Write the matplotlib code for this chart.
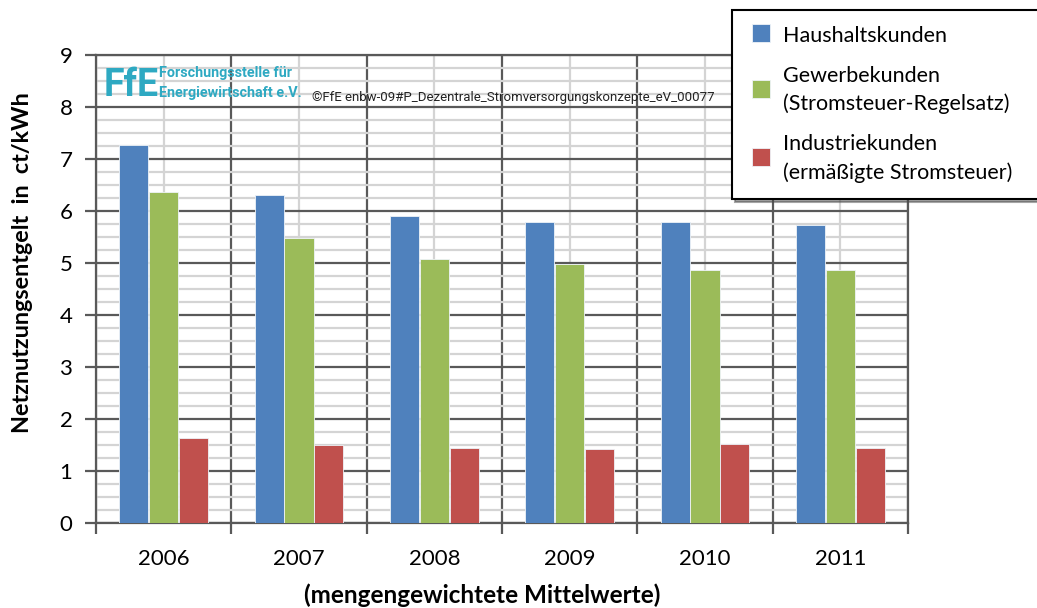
import matplotlib
matplotlib.use("Agg")
import matplotlib.pyplot as plt
import numpy as np
from matplotlib.patches import Rectangle
from matplotlib.legend_handler import HandlerPatch, update_from_first_child
from matplotlib.ticker import MultipleLocator, FixedLocator, NullFormatter

# Network charges (ct/kWh), quantity-weighted averages
years = ["2006", "2007", "2008", "2009", "2010", "2011"]
haushalt = [7.27, 6.31, 5.91, 5.79, 5.79, 5.74]
gewerbe = [6.37, 5.49, 5.07, 4.99, 4.87, 4.87]
industrie = [1.64, 1.50, 1.44, 1.42, 1.52, 1.44]
series_labels = ["Haushaltskunden",
                 "Gewerbekunden\n(Stromsteuer-Regelsatz)",
                 "Industriekunden\n(ermäßigte Stromsteuer)"]
colors = ["#4F81BD", "#9BBB59", "#C0504D"]

plt.rcParams["font.family"] = ["Lato", "DejaVu Sans"]
narrow = ["Liberation Sans Narrow", "DejaVu Sans Condensed", "Roboto", "DejaVu Sans"]

W, H = 1037, 608
fig = plt.figure(figsize=(W / 100, H / 100), dpi=100)
ax = fig.add_axes([96 / W, 1 - 523 / H, (908 - 96) / W, (523 - 55) / H])

x = np.arange(len(years))
bw = 0.215
off = 0.22
for i, (vals, c, lab) in enumerate(zip([haushalt, gewerbe, industrie], colors, series_labels)):
    ax.bar(x + (i - 1) * off, vals, width=bw, color=c, edgecolor="#EEF3F8",
           linewidth=0.6, label=lab, zorder=3)

ax.set_xlim(-0.5, len(years) - 0.5)
ax.set_ylim(0, 9)

# y axis: major every 1, minor every 0.25
ax.yaxis.set_major_locator(MultipleLocator(1))
ax.yaxis.set_minor_locator(MultipleLocator(0.25))
# x axis: major ticks at category boundaries, labels at category centres
ax.xaxis.set_major_locator(FixedLocator(np.arange(-0.5, len(years), 1.0)))
ax.xaxis.set_major_formatter(NullFormatter())
ax.xaxis.set_minor_locator(FixedLocator(x))
ax.set_xticks(x, years, minor=True)

ax.tick_params(axis="both", which="major", direction="out", length=8,
               width=1.6, color="#595959", labelsize=16)
ax.tick_params(axis="y", which="major", pad=9)
ax.tick_params(axis="both", which="minor", length=0, labelsize=16)
ax.tick_params(axis="x", which="minor", pad=19)

ax.set_axisbelow(True)
ax.grid(which="minor", color="#D4D4D4", linewidth=1.6, zorder=0)
ax.grid(which="major", color="#595959", linewidth=1.6, zorder=1)
for s in ax.spines.values():
    s.set_color("#595959")
    s.set_linewidth(1.6)

fig.text(23 / W, 1 - 263 / H, "Netznutzungsentgelt  in  ct/kWh", rotation=90,
         ha="center", va="center", fontsize=16.8, fontweight="bold")
fig.text(482 / W, 1 - 595 / H, "(mengengewichtete Mittelwerte)",
         ha="center", va="center", fontsize=17.5, fontweight="bold")

# Institute logo and copyright note
teal = "#2EA9C2"
fig.text(104 / W, 1 - 86 / H, "FfE", color=teal, fontsize=27, fontweight="bold",
         ha="left", va="center", family=narrow)
fig.text(159 / W, 1 - 73 / H, "Forschungsstelle für", color=teal, fontsize=10.4,
         fontweight="bold", ha="left", va="center", family=narrow)
fig.text(159 / W, 1 - 93 / H, "Energiewirtschaft e.V.", color=teal, fontsize=10.4,
         fontweight="bold", ha="left", va="center", family=narrow)
fig.text(312 / W, 1 - 98 / H, "©FfE enbw-09#P_Dezentrale_Stromversorgungskonzepte_eV_00077",
         color="#222222", fontsize=9.5, ha="left", va="center", family=narrow)


def square_swatch(legend, orig_handle, xdescent, ydescent, width, height, fontsize):
    # small square at the right end of the handle box
    side = 13
    return Rectangle((-xdescent + width - side, -ydescent + (height - side) / 2 + 1),
                     side, side)


leg = fig.legend(loc="upper left",
                 bbox_to_anchor=(732 / W, 1 - 10 / H, (1065 - 732) / W, 0),
                 mode="expand", frameon=True, fancybox=False, shadow=True,
                 fontsize=15.5, handlelength=1.02, handleheight=0.7,
                 handletextpad=0.6, labelspacing=0.9, borderpad=0.75,
                 borderaxespad=0,
                 handler_map={Rectangle: HandlerPatch(patch_func=square_swatch),
                              matplotlib.container.BarContainer:
                                  HandlerPatch(patch_func=square_swatch,
                                               update_func=update_from_first_child)})
for t in leg.get_texts():
    t.set_linespacing(1.5)
leg.get_frame().set_edgecolor("black")
leg.get_frame().set_linewidth(1.5)

fig.savefig("out.png", dpi=100)
